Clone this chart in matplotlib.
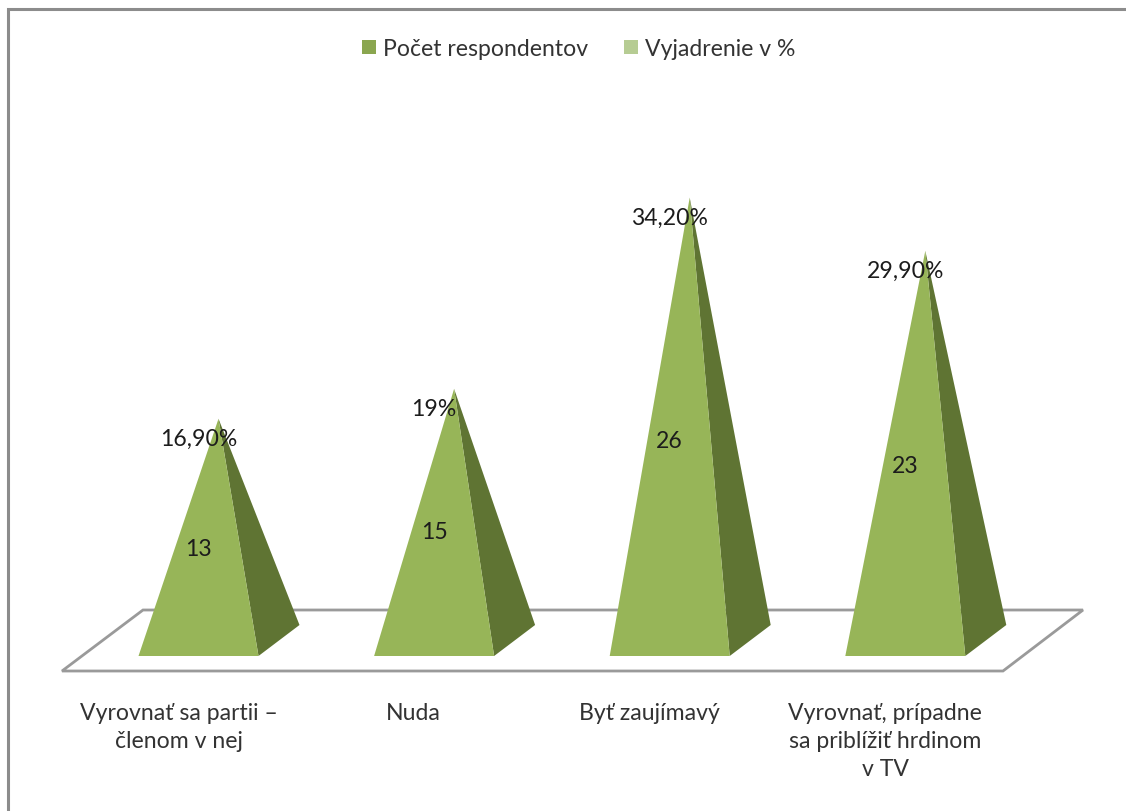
import matplotlib
matplotlib.use('Agg')
import matplotlib.pyplot as plt
from matplotlib.patches import Polygon, Rectangle

plt.rcParams['font.family'] = ['Lato', 'DejaVu Sans']

kategorie = ['Vyrovnať sa partii –\nčlenom v nej', 'Nuda', 'Byť zaujímavý',
             'Vyrovnať, prípadne\nsa priblížiť hrdinom\nv TV']
respondenti = [13, 15, 26, 23]
percenta = [16.9, 19, 34.2, 29.9]
percenta_text = ['16,90%', '19%', '34,20%', '29,90%']
serie = ['Počet respondentov', 'Vyjadrenie v %']

W, H = 1126, 812
# skala: jedna kategoria = 235.6 px, jedna jednotka = 7.3 px
sx, sy = 235.6, 7.3
x0, y0 = 198.5, 638
fs = 16.6

fig = plt.figure(figsize=(W / 100, H / 100), dpi=100)
ax = fig.add_axes([0, 0, 1, 1])
ax.set_xlim(-x0 / sx, (W - x0) / sx)
ax.set_ylim((y0 - H) / sy, y0 / sy)
ax.axis('off')

def dx(p):
    return p / sx

def dy(p):
    return p / sy

zem = dy(-19)  # spodok pyramid je pod nulou
posun = [-20, -21, -20, -20]  # popisky osi nie su presne pod pyramidou

# ram
ax.plot([dx(8 - x0), dx(8 - x0), dx(W - x0)], [dy(y0 - H), dy(y0 - 10), dy(y0 - 10)],
        color='#8c8c8c', lw=2.2, solid_joinstyle='miter')

# podlaha
podlaha = [(62, 672), (1003, 672), (1083, 611), (143, 611)]
ax.add_patch(Polygon([(dx(a - x0), dy(y0 - b)) for a, b in podlaha], closed=True,
                     fc='white', ec='#9a9a9a', lw=2, joinstyle='miter'))

for i, (n, p) in enumerate(zip(respondenti, percenta)):
    vrch = n + p
    lavo = i - dx(60)
    pravo = i + dx(60)
    hlbka = (pravo + dx(41), zem + dy(31))
    apex = (i + dx(20), vrch)
    ax.add_patch(Polygon([(pravo, zem), hlbka, apex], closed=True, fc='#5f7433', ec='none'))
    ax.add_patch(Polygon([(lavo, zem), (pravo, zem), apex], closed=True, fc='#97b558', ec='none'))
    ax.text(i, zem + dy(8.3) * n, str(n), ha='center', va='center', fontsize=fs, color='#1c1c1c')
    ax.text(i, vrch - dy(20), percenta_text[i], ha='center', va='center', fontsize=fs, color='#1c1c1c')
    ax.text(i + dx(posun[i]), dy(y0 - 703), kategorie[i], ha='center', va='top',
            fontsize=fs, color='#333333', linespacing=1.42)

# legenda
for a, farba, text in zip([362, 624], ['#8aa64f', '#b6cc93'], serie):
    ax.add_patch(Rectangle((dx(a - x0), dy(y0 - 55)), dx(14), dy(14), fc=farba, ec='none'))
    ax.text(dx(a + 21 - x0), dy(y0 - 50), text, ha='left', va='center', fontsize=fs, color='#333333')

fig.savefig('out.png', dpi=100)
